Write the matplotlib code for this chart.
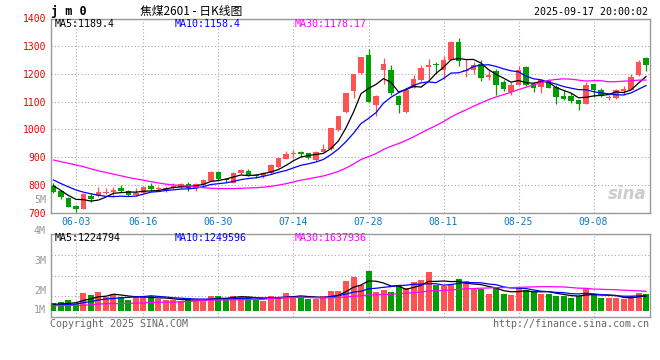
import matplotlib
matplotlib.use('Agg')
import matplotlib.pyplot as plt
import numpy as np

plt.rcParams['font.family'] = ['DejaVu Sans Mono']

# daily candles, jm2601, 2025-05-28 .. 2025-09-17
open_ = [798, 778, 754, 725, 714, 760, 760, 772, 773, 790,
         777, 763, 770, 795, 784, 781, 788, 794, 805, 788,
         800, 815, 847, 820, 808, 844, 850, 836, 831, 843,
         866, 895, 910, 919, 914, 890, 920, 928, 998, 1064,
         1139, 1204, 1267, 1087, 1216, 1213, 1121, 1063, 1151, 1177,
         1225, 1236, 1213, 1252, 1315, 1211, 1213, 1237, 1189, 1210,
         1171, 1135, 1162, 1225, 1165, 1153, 1180, 1153, 1120, 1121,
         1105, 1093, 1163, 1144, 1112, 1114, 1139, 1144, 1195, 1258]
high = [806, 781, 755, 727, 770, 770, 792, 790, 793, 800,
        781, 788, 795, 806, 795, 797, 806, 808, 810, 806,
        820, 850, 851, 826, 846, 858, 857, 840, 846, 875,
        900, 922, 925, 922, 916, 921, 947, 1006, 1050, 1133,
        1200, 1263, 1289, 1125, 1258, 1232, 1125, 1150, 1195, 1234,
        1255, 1243, 1264, 1318, 1330, 1255, 1243, 1251, 1213, 1219,
        1180, 1171, 1230, 1228, 1171, 1183, 1183, 1159, 1141, 1132,
        1108, 1171, 1165, 1151, 1123, 1147, 1156, 1199, 1251, 1261]
low = [770, 749, 720, 704, 713, 737, 758, 766, 758, 775,
       760, 761, 768, 780, 780, 776, 786, 790, 780, 778,
       798, 813, 816, 812, 806, 840, 832, 826, 826, 840,
       862, 892, 898, 900, 892, 887, 917, 925, 995, 1060,
       1115, 1200, 1098, 1048, 1165, 1123, 1060, 1060, 1148, 1175,
       1183, 1201, 1183, 1250, 1228, 1189, 1201, 1173, 1177, 1125,
       1138, 1125, 1160, 1155, 1135, 1131, 1148, 1092, 1105, 1095,
       1070, 1091, 1118, 1117, 1105, 1111, 1123, 1141, 1191, 1210]
close = [776, 755, 722, 713, 769, 750, 774, 776, 781, 780,
         762, 771, 793, 786, 789, 790, 796, 804, 790, 805,
         817, 848, 820, 817, 842, 853, 836, 831, 843, 871,
         897, 910, 916, 910, 897, 918, 928, 1005, 1048, 1132,
         1199, 1261, 1099, 1121, 1237, 1132, 1087, 1141, 1181, 1222,
         1234, 1232, 1252, 1315, 1247, 1214, 1234, 1186, 1198, 1162,
         1145, 1162, 1215, 1160, 1151, 1177, 1151, 1117, 1109, 1102,
         1093, 1159, 1141, 1120, 1116, 1141, 1147, 1189, 1243, 1234]
# volume in thousands of lots
volume_k = [626, 732, 894, 569, 1463, 1301, 1545, 1138, 1382, 1138,
            894, 1220, 1098, 1179, 935, 854, 894, 789, 1033, 837,
            837, 1220, 1220, 1033, 1220, 1114, 1114, 951, 813, 1220,
            1114, 1463, 1220, 1114, 951, 951, 1220, 1626, 1626, 2439,
            2764, 2114, 3252, 1545, 1707, 1545, 2114, 1870, 2358, 2520,
            3171, 2114, 2033, 2114, 2602, 2439, 1789, 1789, 1382, 1951,
            1382, 1301, 1870, 1707, 1545, 1382, 1382, 1220, 1220, 1057,
            1220, 1789, 1382, 1057, 1057, 1057, 976, 1220, 1463, 1382]

# moving averages at the left edge (history before the first candle)
ma5_head = [797, 780, 762, 748]
ma10_head = [818, 805, 793, 782, 774, 768, 763, 759, 758]
ma30_head = [890, 884, 878, 872, 866, 858, 851, 845, 839, 833,
             827, 822, 817, 812, 807, 803, 800, 798, 796, 793,
             790, 788, 787, 787, 787, 788, 789, 790, 792]
vma5_head = [545, 570, 610, 675]
vma10_head = [447, 488, 528, 569, 675, 772, 894, 976, 1016]
vma30_head = [430, 435, 440, 450, 470, 500, 560, 590, 600, 610,
              620, 640, 660, 690, 700, 710, 720, 740, 780, 820,
              860, 880, 895, 905, 915, 920, 925, 930, 940]

tick_idx = [3, 12, 22, 32, 42, 52, 62, 72]
tick_labels = ['06-03', '06-16', '06-30', '07-14', '07-28', '08-11', '08-25', '09-08']
price_ticks = [700, 800, 900, 1000, 1100, 1200, 1300, 1400]
vol_tick_labels = ['5M', '4M', '3M', '2M', '1M']

title = '焦煤2601 - 日K线图'
stamp = '2025-09-17 20:00:02'
ma_text = ['MA5:1189.4', 'MA10:1158.4', 'MA30:1178.17']
vma_text = ['MA5:1224794', 'MA10:1249596', 'MA30:1637936']

RED = '#ff5252'
GREEN = '#009e00'
GRID = '#aaaaaa'
FRAME = '#999999'
MA_COLORS = ['black', '#0000ff', '#ff00ff']


def moving_avg(vals, n, head):
    vals = np.asarray(vals, float)
    rolled = np.convolve(vals, np.ones(n) / n, mode='valid')
    return np.concatenate([np.asarray(head, float), rolled])


W, H = 660, 360
fig = plt.figure(figsize=(6.6, 3.6), dpi=100)


def fx(px):
    return px / W


def fy(py):
    return 1 - py / H


left, right = 50.7, 650
ax = fig.add_axes([fx(left), fy(212.7), (right - left) / W, (212.7 - 18.5) / H])
axv = fig.add_axes([fx(left), fy(317), (right - left) / W, (317 - 234) / H])

o = np.array(open_, float)
c = np.array(close, float)
x = np.arange(len(c))
colors = np.where(c >= o, RED, GREEN)

# price panel
ax.vlines(x, low, high, colors=colors, linewidth=0.9, zorder=3)
ax.bar(x, np.maximum(np.abs(c - o), 2.5), bottom=np.minimum(o, c),
       width=0.78, color=colors, zorder=3)
for n, head, col in zip([5, 10, 30], [ma5_head, ma10_head, ma30_head], MA_COLORS):
    ax.plot(x, moving_avg(c, n, head), color=col, linewidth=0.9, zorder=4)

ax.set_xlim(-0.37, 79.53)
ax.set_ylim(700, 1400)
ax.set_yticks(price_ticks)
ax.set_xticks(tick_idx)
ax.set_xticklabels(tick_labels)
ax.tick_params(axis='y', length=0, pad=3.4, labelsize=7, labelcolor='#ee0000')
ax.tick_params(axis='x', length=0, pad=3, labelsize=7, labelcolor='#0a78c8')
ax.grid(True, color=GRID, linestyle=(0, (1, 2)), linewidth=0.8)
ax.set_axisbelow(True)
for s in ax.spines.values():
    s.set_color(FRAME)
    s.set_linewidth(1.0)

for txt, col, px in zip(ma_text, MA_COLORS, [55, 175, 295]):
    ax.text((px - left) / (right - left), 0.972, txt, transform=ax.transAxes,
            color=col, fontsize=7.2, va='center', ha='left')
ax.text(0.995, 0.05, 'sina', transform=ax.transAxes, color='#cccccc',
        fontsize=12, fontweight='bold', style='italic', ha='right', va='bottom',
        family=['DejaVu Sans'])

# volume panel
k = 12.3  # px per million
vol_m = np.array(volume_k, float) / 1000
axv.bar(x, vol_m, width=0.8, color=colors, zorder=3)
for n, head, col in zip([5, 10, 30], [vma5_head, vma10_head, vma30_head], MA_COLORS):
    axv.plot(x, moving_avg(volume_k, n, head) / 1000, color=col, linewidth=0.9, zorder=4)
axv.set_xlim(-0.37, 79.53)
axv.set_ylim(-6 / k, 77 / k)
axv.set_xticks(tick_idx)
axv.set_xticklabels([])
axv.set_yticks([])
axv.tick_params(axis='x', length=0)
axv.grid(True, axis='x', color=GRID, linestyle=(0, (1, 2)), linewidth=0.8)
for f in [(317 - 255) / 83, (317 - 276) / 83, (317 - 296) / 83]:
    axv.plot([0, 1], [f, f], transform=axv.transAxes, color=GRID,
             linestyle=(0, (1, 2)), linewidth=0.8, zorder=1)
axv.set_axisbelow(True)
for s in axv.spines.values():
    s.set_color(FRAME)
    s.set_linewidth(1.0)
for txt, col, px in zip(vma_text, MA_COLORS, [55, 175, 295]):
    axv.text((px - left) / (right - left), 0.95, txt, transform=axv.transAxes,
             color=col, fontsize=7.2, va='center', ha='left')

for lab, py in zip(vol_tick_labels, [200, 231, 261, 291, 310]):
    fig.text(fx(46), fy(py), lab, color='#999999', fontsize=7.2, ha='right', va='center')

# header and footer
fig.text(fx(51), fy(11), 'j m 0', fontsize=8.5, fontweight='bold', ha='left', va='center')
fig.text(fx(140), fy(11), title, fontsize=8.5, ha='left', va='center',
         family=['Noto Sans CJK SC', 'DejaVu Sans'])
fig.text(fx(648), fy(12), stamp, fontsize=7.2, ha='right', va='center')
fig.text(fx(50), fy(324), 'Copyright 2025 SINA.COM', fontsize=7.2, color='#666666',
         ha='left', va='center')
fig.text(fx(649), fy(324), 'http://finance.sina.com.cn', fontsize=7.2, color='#666666',
         ha='right', va='center')

fig.savefig('out.png', dpi=100, facecolor='white')
